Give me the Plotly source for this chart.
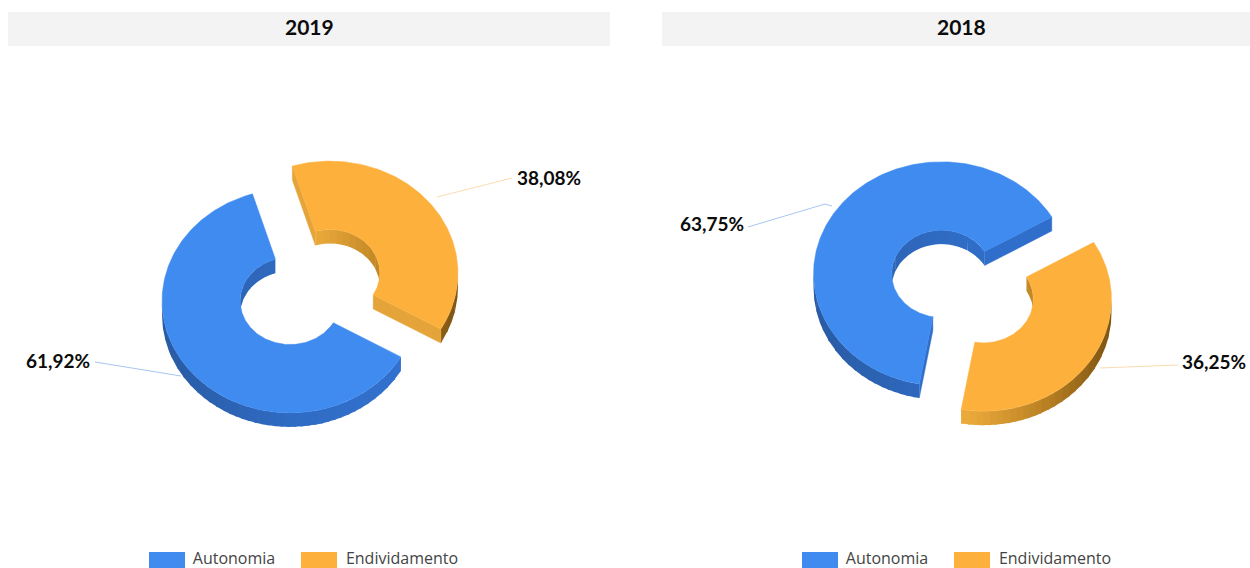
import math
import plotly.graph_objects as go

# Capital structure shares per year
YEARS = ["2019", "2018"]
CATEGORIES = ["Autonomia", "Endividamento"]
AUTONOMIA = [61.92, 63.75]
ENDIVIDAMENTO = [38.08, 36.25]
FIRST_SLICE_ANGLE = [120.0, 190.0]

# Colours
TOP_COLORS = {"Autonomia": "#3f8bf0", "Endividamento": "#fdb03c"}
LEADER_COLORS = {"Autonomia": "#a9c6f2", "Endividamento": "#f9dcb0"}
CUT_COLORS = {"Autonomia": "#2f6ecb", "Endividamento": "#e5a439"}
WALL_STOPS = {
    "Autonomia": [(0.0, "#295ba3"), (0.5, "#2f6bc3"), (1.0, "#3272d0")],
    "Endividamento": [(0.0, "#f0ae3c"), (0.45, "#eaa93a"), (0.75, "#b87f22"), (1.0, "#7d5412")],
}

# Canvas and donut geometry
WIDTH, HEIGHT = 1250, 568
PX_PER_UNIT = 128.0
TILT = 0.875
HOLE = 0.39
DEPTH = 14.0 / PX_PER_UNIT
EXPLODE = 25.5 / PX_PER_UNIT
STEP_DEG = 1.0
SHADE_LEVELS = 40

# One panel per year: pixel span and the pixel position of the pie centre
PANELS = [(0, 625, 310.0, 287.0), (625, 1250, 962.5, 286.5)]
BANNERS = [(8, 610), (662, 1250)]
TITLE_CENTERS = [309, 962]
LEGEND_SWATCH_X = [149, 802]

# Pixel anchors of the value labels and the paths of their leader lines
LABEL_ANCHORS = [
    {"Autonomia": (58, 363.5), "Endividamento": (549, 180.5)},
    {"Autonomia": (712, 226), "Endividamento": (1214, 364.5)},
]
LEADERS = [
    {"Autonomia": [(181, 376), (95, 362)], "Endividamento": [(437, 197), (512, 178)]},
    {"Autonomia": [(832, 206), (825, 204), (748, 227)], "Endividamento": [(1100, 368), (1178, 365)]},
]


def hex_rgb(color):
    return tuple(int(color[i:i + 2], 16) for i in (1, 3, 5))


def shade(stops, t):
    t = max(0.0, min(1.0, t))
    for (t0, c0), (t1, c1) in zip(stops, stops[1:]):
        if t <= t1:
            f = (t - t0) / (t1 - t0)
            a, b = hex_rgb(c0), hex_rgb(c1)
            return "#%02x%02x%02x" % tuple(round(a[i] + (b[i] - a[i]) * f) for i in range(3))
    return stops[-1][1]


def arc(cx, cy, radius, start, end):
    """Points along a flattened circle; angles run clockwise from twelve o'clock."""
    n = max(2, int(abs(end - start) / STEP_DEG))
    pts = []
    for i in range(n + 1):
        a = math.radians(start + (end - start) * i / n)
        pts.append((cx + radius * math.sin(a), cy + radius * TILT * math.cos(a)))
    return pts


def wall_runs(path, cx):
    """Split an arc into viewer-facing runs of one shade; each run overlaps the next."""
    facing = [(p, q) for p, q in zip(path, path[1:]) if q[0] < p[0]]
    runs = []
    current_level = None
    for p, q in facing:
        level = round(((p[0] + q[0]) / 2 - cx + 1) / 2 * (SHADE_LEVELS - 1))
        if level != current_level:
            runs.append((level, [p]))
            current_level = level
        runs[-1][1].append(q)
    # Reach into the following band so neighbouring bands leave no seam
    for n, (level, run) in enumerate(runs[:-1]):
        run.append(runs[n + 1][1][1])
    return runs


def add_ring_slice(fig, name, share, start, axis_pos):
    sweep = share * 3.6
    end = start + sweep
    mid = math.radians(start + sweep / 2)
    cx = EXPLODE * math.sin(mid)
    cy = EXPLODE * TILT * math.cos(mid)

    outer = arc(cx, cy, 1.0, start, end)
    inner = arc(cx, cy, HOLE, end, start)

    # Side walls facing the viewer, drawn as overlapping bands of equal shade
    for path in (outer, inner):
        for level, run in wall_runs(path, cx):
            color = shade(WALL_STOPS[name], level / (SHADE_LEVELS - 1))
            xs = [p[0] for p in run] + [p[0] for p in reversed(run)] + [run[0][0]]
            ys = [p[1] for p in run] + [p[1] - DEPTH for p in reversed(run)] + [run[0][1]]
            fig.add_trace(go.Scatter(x=xs, y=ys, mode="lines", fill="toself", fillcolor=color,
                                     line=dict(color=color, width=0), hoverinfo="skip",
                                     showlegend=False, **axis_pos))

    # Flat cut faces at both ends of the slice
    for p, q in ((outer[-1], inner[0]), (inner[-1], outer[0])):
        if q[0] < p[0]:
            fig.add_trace(go.Scatter(
                x=[p[0], q[0], q[0], p[0], p[0]],
                y=[p[1], q[1], q[1] - DEPTH, p[1] - DEPTH, p[1]],
                mode="lines", fill="toself", fillcolor=CUT_COLORS[name],
                line=dict(color=CUT_COLORS[name], width=0.4), hoverinfo="skip",
                showlegend=False, **axis_pos))

    # Top surface
    ring = outer + inner + [outer[0]]
    fig.add_trace(go.Scatter(x=[p[0] for p in ring], y=[p[1] for p in ring], mode="lines",
                             fill="toself", fillcolor=TOP_COLORS[name],
                             line=dict(color=TOP_COLORS[name], width=0.5),
                             name=name, hovertext=f"{name}: {share:.2f}%".replace(".", ","),
                             hoverinfo="text", showlegend=False, **axis_pos))


fig = go.Figure()
layout_axes = {}

for idx, year in enumerate(YEARS):
    px0, px1, ccx, ccy = PANELS[idx]
    suffix = "" if idx == 0 else str(idx + 1)
    axis_pos = dict(xaxis=f"x{suffix}", yaxis=f"y{suffix}")
    to_x = lambda px, c=ccx: (px - c) / PX_PER_UNIT
    to_y = lambda py, c=ccy: (c - py) / PX_PER_UNIT

    layout_axes[f"xaxis{suffix}"] = dict(domain=[px0 / WIDTH, px1 / WIDTH],
                                         range=[to_x(px0), to_x(px1)], visible=False, fixedrange=True)
    layout_axes[f"yaxis{suffix}"] = dict(domain=[0, 1], range=[to_y(HEIGHT), to_y(0)],
                                         visible=False, fixedrange=True)

    # Leader lines sit under the donut
    for name in CATEGORIES:
        path = LEADERS[idx][name]
        fig.add_trace(go.Scatter(x=[to_x(p[0]) for p in path], y=[to_y(p[1]) for p in path],
                                 mode="lines", line=dict(color=LEADER_COLORS[name], width=1),
                                 hoverinfo="skip", showlegend=False, **axis_pos))

    start = FIRST_SLICE_ANGLE[idx]
    add_ring_slice(fig, "Autonomia", AUTONOMIA[idx], start, axis_pos)
    add_ring_slice(fig, "Endividamento", ENDIVIDAMENTO[idx], start + AUTONOMIA[idx] * 3.6, axis_pos)

    # Value labels
    for name, value in zip(CATEGORIES, (AUTONOMIA[idx], ENDIVIDAMENTO[idx])):
        ax, ay = LABEL_ANCHORS[idx][name]
        fig.add_trace(go.Scatter(x=[to_x(ax)], y=[to_y(ay)], mode="text",
                                 text=[f"{value:.2f}%".replace(".", ",")],
                                 textposition="middle center",
                                 textfont=dict(family="Lato", size=19, color="#0c0c0c", weight="bold"),
                                 hoverinfo="skip", showlegend=False, **axis_pos))

    # Legend row labels
    for name, text_offset in zip(CATEGORIES, (85, 253)):
        fig.add_trace(go.Scatter(x=[to_x(LEGEND_SWATCH_X[idx] + text_offset)], y=[to_y(560)],
                                 mode="text", text=[name], textposition="middle center",
                                 textfont=dict(family="Open Sans", size=16, color="#444444"),
                                 hoverinfo="skip", showlegend=False, **axis_pos))

shapes = []
annotations = []
for idx, year in enumerate(YEARS):
    x0, x1 = BANNERS[idx]
    shapes.append(dict(type="rect", xref="paper", yref="paper", layer="below",
                       x0=x0 / WIDTH, x1=x1 / WIDTH, y0=1 - 46 / HEIGHT, y1=1 - 12 / HEIGHT,
                       fillcolor="#f3f3f3", line_width=0))
    annotations.append(dict(text=f"<b>{year}</b>", xref="paper", yref="paper", showarrow=False,
                            x=TITLE_CENTERS[idx] / WIDTH, y=1 - 27 / HEIGHT,
                            xanchor="center", yanchor="middle",
                            font=dict(family="Lato", size=21, color="#0c0c0c")))
    # Legend swatches
    sx = LEGEND_SWATCH_X[idx]
    for name, offset in zip(CATEGORIES, (0, 152)):
        shapes.append(dict(type="rect", xref="paper", yref="paper",
                           x0=(sx + offset) / WIDTH, x1=(sx + offset + 36) / WIDTH,
                           y0=0, y1=16 / HEIGHT, fillcolor=TOP_COLORS[name], line_width=0))

fig.update_layout(width=WIDTH, height=HEIGHT, margin=dict(l=0, r=0, t=0, b=0, pad=0),
                  autosize=False, paper_bgcolor="white", plot_bgcolor="white",
                  showlegend=False, shapes=shapes, annotations=annotations, **layout_axes)

fig.write_html("out.html")
